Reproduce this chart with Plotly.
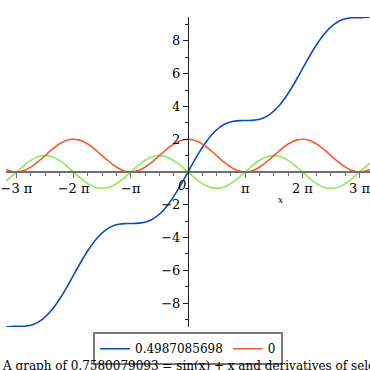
import plotly.graph_objects as go
import math

# sample positions (x)
x_vals = [-10.0, -9.5, -9.0, -8.5, -8.0, -7.5, -7.0, -6.5, -6.0, -5.5, -5.0, -4.5, -4.0, -3.5, -3.0,
          -2.5, -2.0, -1.5, -1.0, -0.5, 0.0, 0.5, 1.0, 1.5, 2.0, 2.5, 3.0, 3.5, 4.0, 4.5, 5.0,
          5.5, 6.0, 6.5, 7.0, 7.5, 8.0, 8.5, 9.0, 9.5, 10.0]

# blue curve values: sin(x) + x
blue_vals = [-9.46, -9.42, -9.41, -9.30, -8.99, -8.44, -7.66, -6.72, -5.72, -4.79, -4.04, -3.52, -3.24, -3.15, -3.14,
             -3.10, -2.91, -2.50, -1.84, -0.98, 0.00, 0.98, 1.84, 2.50, 2.91, 3.10, 3.14, 3.15, 3.24, 3.52, 4.04,
             4.79, 5.72, 6.72, 7.66, 8.44, 8.99, 9.30, 9.41, 9.42, 9.46]

# red curve values: first derivative
red_vals = [0.16, 0.00, 0.09, 0.40, 0.85, 1.35, 1.75, 1.98, 1.96, 1.71, 1.28, 0.79, 0.35, 0.06, 0.01,
            0.20, 0.58, 1.07, 1.54, 1.88, 2.00, 1.88, 1.54, 1.07, 0.58, 0.20, 0.01, 0.06, 0.35, 0.79, 1.28,
            1.71, 1.96, 1.98, 1.75, 1.35, 0.85, 0.40, 0.09, 0.00, 0.16]

# green curve values: second derivative
green_vals = [-0.54, -0.08, 0.41, 0.80, 0.99, 0.94, 0.66, 0.21, -0.28, -0.71, -0.96, -0.98, -0.76, -0.35, 0.14,
              0.60, 0.91, 1.00, 0.84, 0.48, 0.00, -0.48, -0.84, -1.00, -0.91, -0.60, -0.14, 0.35, 0.76, 0.98, 0.96,
              0.71, 0.28, -0.21, -0.66, -0.94, -0.99, -0.80, -0.41, 0.08, 0.54]

series_names = ["0.4987085698", "0", ""]

x_tick_mult = [-3, -2, -1, 1, 2, 3]
x_tick_text = ["\u22123 \u03c0", "\u22122 \u03c0", "\u2212\u03c0", "\u03c0", "2 \u03c0", "3 \u03c0"]
y_tick_vals = [-8, -6, -4, -2, 2, 4, 6, 8]
y_tick_text = ["\u22128", "\u22126", "\u22124", "\u22122", "2", "4", "6", "8"]
y_minor_vals = [-9, -7, -5, -3, -1, 1, 3, 5, 7, 9]

caption = "A graph of 0.7580079093 = sin(x) + x and derivatives of selected order"

FONT = "DejaVu Serif"
BLUE = "#0a4cbc"
RED = "#f25c34"
GREEN = "#8ee860"

fig = go.Figure()
fig.add_trace(go.Scatter(x=x_vals, y=green_vals, mode="lines", line=dict(color=GREEN, width=1.6, shape="spline"),
                         name=series_names[2], showlegend=False))
fig.add_trace(go.Scatter(x=x_vals, y=blue_vals, mode="lines", line=dict(color=BLUE, width=1.6, shape="spline"),
                         name=series_names[0]))
fig.add_trace(go.Scatter(x=x_vals, y=red_vals, mode="lines", line=dict(color=RED, width=1.6, shape="spline"),
                         name=series_names[1]))

xmin, xmax = -10, 10
ymin, ymax = -9.456, 9.456

x_minor = [k * math.pi / 4 for k in range(-13, 14) if k % 4 != 0]

fig.update_layout(
    width=370, height=370,
    margin=dict(l=6, r=0, t=17, b=43, autoexpand=False),
    paper_bgcolor="white", plot_bgcolor="white",
    font=dict(family=FONT, size=12, color="black"),
    showlegend=True,
    legend=dict(orientation="h", x=0.5, xanchor="center", y=-0.017, yanchor="top",
                bordercolor="#777777", borderwidth=2, bgcolor="white",
                font=dict(family=FONT, size=12, color="black"),
                itemwidth=30, tracegroupgap=0, traceorder="normal"),
    xaxis=dict(range=[xmin, xmax], anchor="free", position=0.5, showgrid=False, zeroline=False,
               automargin=False, ticklabeloverflow="allow",
               showline=True, linecolor="#707070", linewidth=1.5,
               ticks="outside", ticklen=5, tickcolor="#707070", tickwidth=1,
               tickmode="array", tickvals=[m * math.pi for m in x_tick_mult], ticktext=x_tick_text,
               tickfont=dict(family=FONT, size=13, color="black"),
               minor=dict(tickmode="array", tickvals=x_minor, ticks="outside", ticklen=3,
                          tickcolor="#707070", showgrid=False),
               fixedrange=True),
    yaxis=dict(range=[ymin, ymax], anchor="free", position=0.5, showgrid=False, zeroline=False,
               automargin=False, ticklabeloverflow="allow",
               showline=True, linecolor="#202020", linewidth=1,
               ticks="outside", ticklen=5, tickcolor="#202020", tickwidth=1,
               tickmode="array", tickvals=y_tick_vals, ticktext=y_tick_text,
               tickfont=dict(family=FONT, size=13, color="black"),
               minor=dict(tickmode="array", tickvals=y_minor_vals, ticks="outside", ticklen=3,
                          tickcolor="#202020", showgrid=False),
               fixedrange=True),
)

fig.add_annotation(x=0, y=0, xref="x", yref="y", text="<i>0</i>", showarrow=False,
                   xanchor="right", yanchor="top", xshift=0, yshift=-4,
                   font=dict(family=FONT, size=13, color="black"))
fig.add_annotation(x=0.5, y=0, xref="x domain", yref="y", text="<i>x</i>", showarrow=False,
                   xanchor="center", yanchor="top", xshift=92, yshift=-21,
                   font=dict(family=FONT, size=9, color="black"))
fig.add_annotation(x=0, y=0, xref="paper", yref="paper", text=caption, showarrow=False,
                   xanchor="left", yanchor="middle", xshift=-6, yshift=-39,
                   font=dict(family=FONT, size=12, color="black"))

fig.write_html("out.html", config={"displayModeBar": False},
               post_script="document.body.style.margin='0px';")
